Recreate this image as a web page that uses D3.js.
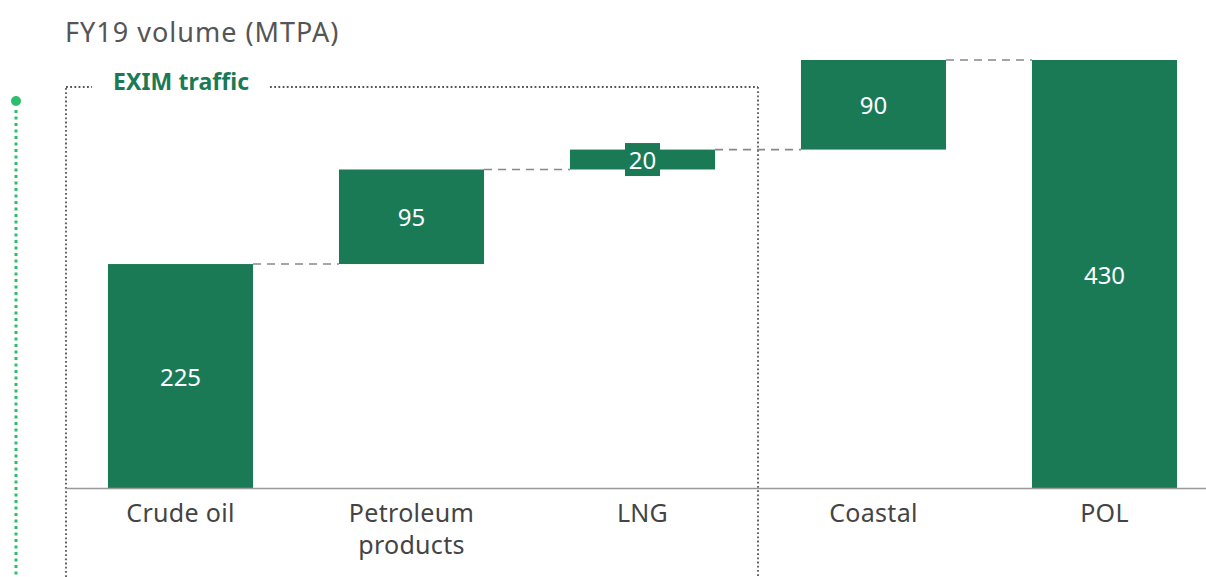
<!DOCTYPE html>
<html>
<head>
<meta charset="utf-8">
<script src="https://cdn.jsdelivr.net/npm/d3@7"></script>
<style>
  html, body { margin: 0; padding: 0; background: #fff; }
  svg { display: block; font-family: "Noto Sans", "Open Sans", sans-serif; }
</style>
</head>
<body>
<svg id="chart" width="1206" height="577"></svg>
<script>
// FY19 port volume bridge (MTPA)
const categories = ["Crude oil", "Petroleum products", "LNG", "Coastal", "POL"];
const categoryLines = [["Crude oil"], ["Petroleum", "products"], ["LNG"], ["Coastal"], ["POL"]];
const values = [225, 95, 20, 90, 430];
const isTotal = [false, false, false, false, true];
const title = "FY19 volume (MTPA)";
const groupLabel = "EXIM traffic";
const groupMembers = ["Crude oil", "Petroleum products", "LNG"];

const GREEN = "#1b7a56";
const svg = d3.select("#chart");

// cumulative segments
let run = 0;
const bars = categories.map((c, i) => {
  let y0, y1;
  if (isTotal[i]) { y0 = 0; y1 = values[i]; run = values[i]; }
  else { y0 = run; y1 = run + values[i]; run = y1; }
  return { cat: c, lines: categoryLines[i], v: values[i], y0, y1 };
});

const x = d3.scaleBand().domain(categories).range([65, 1220])
  .paddingInner(0.372).paddingOuter(0.186);
const y = d3.scaleLinear().domain([0, 430]).range([488, 60]);

// title
svg.append("text").attr("x", 65).attr("y", 42)
  .attr("font-size", 27).attr("letter-spacing", 1).attr("fill", "#555").text(title);

// group frame (dotted)
const gx0 = 66;
const gx1 = x(groupMembers[groupMembers.length - 1]) + x.bandwidth() + x.step() * x.paddingInner() / 2;
const gTop = 87;
const dotted = { stroke: "#555", "stroke-width": 1.8, "stroke-dasharray": "1.8 2.4" };
function dline(x1, y1, x2, y2) {
  const l = svg.append("line").attr("x1", x1).attr("y1", y1).attr("x2", x2).attr("y2", y2);
  Object.entries(dotted).forEach(([k, v]) => l.attr(k, v));
}
dline(gx0, 577, gx0, gTop);
dline(gx0, gTop, 92, gTop);
dline(270, gTop, gx1, gTop);
dline(gx1, gTop, gx1, 577);
svg.append("text").attr("x", 113).attr("y", 90)
  .attr("font-size", 23).attr("font-weight", "bold").attr("letter-spacing", 0.1)
  .attr("fill", GREEN).text(groupLabel);

// left accent marker
svg.append("line").attr("x1", 16).attr("y1", 110).attr("x2", 16).attr("y2", 577)
  .attr("stroke", "#2dbd6e").attr("stroke-width", 3).attr("stroke-dasharray", "3 3.5");
svg.append("circle").attr("cx", 16).attr("cy", 101).attr("r", 5).attr("fill", "#2dbd6e");

// connectors
bars.slice(0, -1).forEach((b, i) => {
  const n = bars[i + 1];
  svg.append("line")
    .attr("x1", x(b.cat) + x.bandwidth()).attr("x2", x(n.cat))
    .attr("y1", y(b.y1)).attr("y2", y(b.y1))
    .attr("stroke", "#888").attr("stroke-width", 1.6).attr("stroke-dasharray", "8 6");
});

// bars
svg.selectAll("rect.bar").data(bars).enter().append("rect").attr("class", "bar")
  .attr("x", d => x(d.cat)).attr("width", x.bandwidth())
  .attr("y", d => y(d.y1)).attr("height", d => y(d.y0) - y(d.y1))
  .attr("fill", GREEN);

// value labels
bars.forEach(d => {
  const cx = x(d.cat) + x.bandwidth() / 2;
  const cy = (y(d.y0) + y(d.y1)) / 2;
  const h = y(d.y0) - y(d.y1);
  if (h < 30) {
    svg.append("rect").attr("x", cx - 17.5).attr("y", cy - 16.5)
      .attr("width", 35).attr("height", 33).attr("fill", GREEN);
  }
  svg.append("text").attr("x", cx).attr("y", cy)
    .attr("text-anchor", "middle").attr("dominant-baseline", "central")
    .attr("font-size", 24).attr("fill", "#fff").text(d.v);
});

// baseline
svg.append("line").attr("x1", 66).attr("x2", 1206).attr("y1", 488.5).attr("y2", 488.5)
  .attr("stroke", "#999").attr("stroke-width", 1.5);

// category labels
bars.forEach(d => {
  const cx = x(d.cat) + x.bandwidth() / 2;
  const t = svg.append("text").attr("x", cx).attr("y", 522)
    .attr("text-anchor", "middle").attr("font-size", 25).attr("letter-spacing", 0.3)
    .attr("fill", "#444");
  d.lines.forEach((ln, k) => {
    t.append("tspan").attr("x", cx).attr("dy", k ? 32 : 0).text(ln);
  });
});
</script>
</body>
</html>
